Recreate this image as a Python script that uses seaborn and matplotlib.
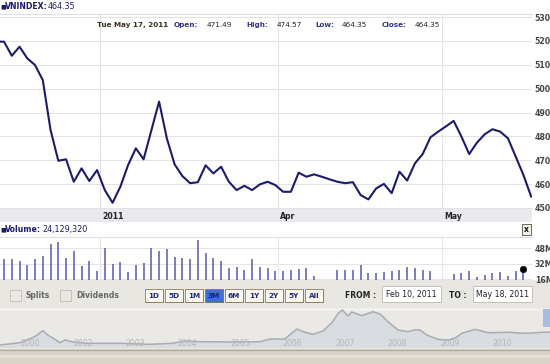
import matplotlib
matplotlib.use('Agg')
import matplotlib.pyplot as plt
import seaborn as sns
import pandas as pd
from matplotlib.patches import Rectangle

# ---- data ----
# daily close, one value per session (session 0 sits just left of the view)
price_close = [519.7, 519.7, 513.8, 517.6, 512.7, 509.9, 503.6, 482.7, 469.8, 470.4,
               461.0, 466.6, 461.3, 465.9, 457.5, 452.2, 458.9, 468.0, 475.0, 470.4,
               482.5, 494.6, 479.2, 468.3, 463.4, 460.4, 460.8, 467.9, 464.5, 467.3,
               461.0, 457.5, 459.3, 457.5, 459.9, 461.0, 459.6, 456.8, 456.8, 464.8,
               463.1, 464.1, 463.1, 462.0, 461.0, 460.4, 460.8, 455.4, 453.6, 458.2,
               460.1, 456.2, 465.2, 461.5, 468.7, 472.6, 479.6, 482.0, 484.2, 486.5,
               479.9, 472.6, 477.4, 480.9, 483.0, 482.0, 479.2, 471.5, 463.8, 454.7]
# volume in millions (None = no bar)
volume_m = [None, 36.6, 36.6, 34.6, 30.5, 36.6, 39.7, 52.1, 54.1, 37.7,
            44.9, 29.4, 34.6, 24.3, 47.9, 31.5, 33.5, 23.2, 30.5, 32.5,
            47.9, 44.9, 46.9, 38.7, 37.7, 36.6, 56.2, 42.8, 37.7, 34.6,
            27.4, 28.4, 25.3, 36.6, 28.4, 27.4, 24.3, 24.3, 25.3, 26.3,
            27.4, 19.1, None, None, 25.3, 25.3, 25.3, 30.5, 22.2, 22.2,
            23.2, 24.3, 25.3, 28.4, 27.4, 25.3, 24.3, None, None, 21.2,
            22.2, 24.3, 18.1, 20.2, 22.2, 23.2, 19.1, 24.3, 26.3, None]
month_ticks = [13.4, 36.35, 57.5]
month_labels = ['2011', 'Apr', 'May']
price_ticks = [450, 460, 470, 480, 490, 500, 510, 520, 530]
vol_ticks = [16, 32, 48]
vol_labels = ['16M', '32M', '48M']

# long history for the navigator strip
hist_year = [2000.42, 2000.80, 2001.08, 2001.24, 2001.33, 2001.47, 2001.56, 2001.66,
             2001.79, 2002.04, 2002.71, 2003.28, 2003.70, 2003.95, 2004.23, 2005.00,
             2005.38, 2005.57, 2005.85, 2006.08, 2006.24, 2006.39, 2006.58, 2006.75,
             2006.87, 2006.95, 2007.06, 2007.13, 2007.32, 2007.53, 2007.67, 2007.82,
             2008.01, 2008.20, 2008.32, 2008.43, 2008.56, 2008.77, 2008.97, 2009.10,
             2009.23, 2009.48, 2009.73, 2010.11, 2010.44, 2010.76, 2010.91]
hist_value = [139, 205, 379, 552, 428, 303, 205, 283, 234, 188, 188, 159, 188, 254,
              234, 225, 234, 312, 312, 601, 506, 448, 543, 783, 1055, 1150, 977, 1092,
              985, 1101, 1035, 812, 572, 523, 572, 572, 428, 303, 283, 341, 477, 592,
              494, 506, 477, 506, 510]
year_ticks = [2001, 2002, 2003, 2004, 2005, 2006, 2007, 2008, 2009, 2010]
year_labels = ['2000', '2002', '2003', '2004', '2005', '2006', '2007', '2008', '2009', '2010']

ranges = ['1D', '5D', '1M', '3M', '6M', '1Y', '2Y', '5Y', 'All']

W, H = 550, 364


def box(x0, y0, x1, y1):
    return [x0 / W, 1 - y1 / H, (x1 - x0) / W, (y1 - y0) / H]


sns.set_style('white')
plt.rcParams['font.family'] = ['DejaVu Sans']

fig = plt.figure(figsize=(5.5, 3.64), dpi=100)
fig.patch.set_facecolor('white')

# background / UI layer in pixel coordinates
ui = fig.add_axes([0, 0, 1, 1], zorder=0)
ui.set_xlim(0, W)
ui.set_ylim(H, 0)
ui.axis('off')
ui.add_patch(Rectangle((0, 209), 532, 13, color='#e8eaf0', lw=0))
ui.add_patch(Rectangle((0, 280), W, 28, color='#e9e7e2', lw=0))
ui.add_patch(Rectangle((0, 308), W, 41, color='#ebe9e5', lw=0))
ui.plot([0, W], [308.5, 308.5], color='#f7f6f3', lw=1)
ui.add_patch(Rectangle((0, 349), W, 15, color='#d9d4c8', lw=0))
ui.plot([0, W], [349.5, 349.5], color='#b4ad9c', lw=1)
ui.plot([0, W], [356, 356], color='#e4e0d6', lw=2)

navy = '#1c1c6c'
df = pd.DataFrame({'session': range(len(price_close)), 'close': price_close,
                   'volume': volume_m})

# ---- price panel ----
ax = fig.add_axes(box(0, 14, 532, 209), zorder=2)
ax.set_facecolor('white')
sns.lineplot(data=df, x='session', y='close', ax=ax, color=navy, lw=1.5)
ax.set_xlim(0.48, 69.1)
ax.set_ylim(449.58, 531.3)
ax.set_yticks(price_ticks)
ax.yaxis.tick_right()
ax.tick_params(axis='y', length=0, pad=2, labelsize=5.6, labelcolor='#444')
for t in ax.get_yticklabels():
    t.set_fontweight('bold')
ax.set_xticks(month_ticks)
ax.set_xticklabels([])
ax.tick_params(axis='x', length=0)
ax.grid(True, color='#e3e3e3', lw=0.8)
ax.set_xlabel('')
ax.set_ylabel('')
for s in ['left', 'right', 'bottom']:
    ax.spines[s].set_visible(False)
ax.spines['top'].set_color('#e0e0e0')
for pos, lbl in zip(month_ticks, month_labels):
    ax.annotate(lbl, xy=(pos, 0), xycoords=ax.get_xaxis_transform(),
                xytext=(1.5, -5.3), textcoords='offset points', ha='left',
                va='center', fontsize=5.6, fontweight='bold', color='#222')

# ---- volume panel ----
av = fig.add_axes(box(0, 237, 532, 280), zorder=2)
av.set_facecolor('white')
vol = df.dropna(subset=['volume'])
av.vlines(vol['session'], 0, vol['volume'], color='#5a5aa8', lw=1.1)
last = vol.iloc[[-1]]
sns.scatterplot(data=last, x='session', y='volume', ax=av, color='black',
                s=22, edgecolor='black', zorder=5)
av.set_xlim(0.48, 69.1)
av.set_ylim(15, 59.4)
av.set_yticks(vol_ticks)
av.set_yticklabels(vol_labels)
av.yaxis.tick_right()
av.tick_params(axis='y', length=0, pad=2, labelsize=5.6, labelcolor='#444')
for t in av.get_yticklabels():
    t.set_fontweight('bold')
av.set_xticks(month_ticks)
av.set_xticklabels([])
av.tick_params(axis='x', length=0)
av.grid(True, color='#e6e6e6', lw=0.8)
av.set_xlabel('')
av.set_ylabel('')
for s in ['left', 'right', 'bottom']:
    av.spines[s].set_visible(False)
av.spines['top'].set_color('#e0e0e0')

# ---- navigator ----
an = fig.add_axes(box(0, 309, 550, 348), zorder=2)
an.set_facecolor('#ebe9e5')
hist = pd.DataFrame({'year': hist_year, 'value': hist_value})
an.fill_between(hist['year'], 0, hist['value'], color='#d9dde1', lw=0)
sns.lineplot(data=hist, x='year', y='value', ax=an, color='#a8acb3', lw=1.1)
an.set_xlim(2000.42, 2010.91)
an.set_ylim(52, 1179)
an.axis('off')
for yr, lbl in zip(year_ticks, year_labels):
    an.text(yr, 0.12, lbl, transform=an.get_xaxis_transform(), ha='center',
            va='center', fontsize=5.6, color='#b4b4b4')
an.add_patch(Rectangle((0.988, 0.55), 0.012, 0.45, transform=an.transAxes,
                       color='#a9bde0', lw=0))

# ---- foreground texts / controls ----
fg = fig.add_axes([0, 0, 1, 1], zorder=10)
fg.set_xlim(0, W)
fg.set_ylim(H, 0)
fg.axis('off')
fg.patch.set_alpha(0)

fg.text(0, 6.5, '\u25a0', fontsize=4.5, color=navy, va='center')
fg.text(5, 6.5, 'VNINDEX:', fontsize=5.6, fontweight='bold', color=navy, va='center')
fg.text(48, 6.5, '464.35', fontsize=5.8, color=navy, va='center')

row = [(97, 'Tue May 17, 2011', '#3a3020', 'bold'),
       (174, 'Open:', '#34348a', 'bold'), (207, '471.49', '#222', 'normal'),
       (246, 'High:', '#34348a', 'bold'), (277, '474.57', '#222', 'normal'),
       (315, 'Low:', '#34348a', 'bold'), (342, '464.35', '#222', 'normal'),
       (382, 'Close:', '#34348a', 'bold'), (415, '464.35', '#222', 'normal')]
for x, s, c, w in row:
    fg.text(x, 25, s, fontsize=5.2, fontweight=w, color=c, va='center')

fg.text(0, 229.5, '\u25a0', fontsize=4.5, color=navy, va='center')
fg.text(5, 229.5, 'Volume:', fontsize=5.6, fontweight='bold', color=navy, va='center')
fg.text(42, 229.5, '24,129,320', fontsize=5.8, color=navy, va='center')

fg.add_patch(Rectangle((521.5, 224), 9.5, 10.5, facecolor='#f4f0e2',
                       edgecolor='#666', lw=0.7))
fg.text(526.2, 229.5, 'x', fontsize=5.5, fontweight='bold', ha='center',
        va='center', color='#111')

# checkboxes
for x0, lbl in [(10, 'Splits'), (60, 'Dividends')]:
    fg.add_patch(Rectangle((x0, 290), 11, 11, facecolor='#ebe8e3',
                           edgecolor='#c6c2ba', lw=0.7))
    fg.text(x0 + 16, 295.5, lbl, fontsize=5.5, fontweight='bold', color='#666',
            va='center')

# range buttons
for i, lbl in enumerate(ranges):
    x0 = 145 + 20 * i
    sel = lbl == '3M'
    fg.add_patch(Rectangle((x0 + 0.8, 290), 18, 12.5, facecolor='#5e4e33', lw=0))
    fg.add_patch(Rectangle((x0, 289.2), 18, 12.3,
                           facecolor='#3d6fd6' if sel else '#fbf8ef',
                           edgecolor='#8a7a5a', lw=0.6))
    fg.text(x0 + 9, 295.5, lbl, fontsize=5.2, fontweight='bold', ha='center',
            va='center', color='#152070' if sel else '#1d2a7a')

fg.text(345, 295, 'FROM :', fontsize=5.5, fontweight='bold', color='#222', va='center')
fg.text(449, 295, 'TO :', fontsize=5.5, fontweight='bold', color='#222', va='center')
for x0, s in [(382, 'Feb 10, 2011'), (473, 'May 18, 2011')]:
    fg.add_patch(Rectangle((x0, 286), 59, 16, facecolor='white',
                           edgecolor='#c4c0b8', lw=0.7))
    fg.text(x0 + 29.5, 294.5, s, fontsize=5.6, ha='center', va='center', color='#222')

fig.savefig('out.png', dpi=100)
